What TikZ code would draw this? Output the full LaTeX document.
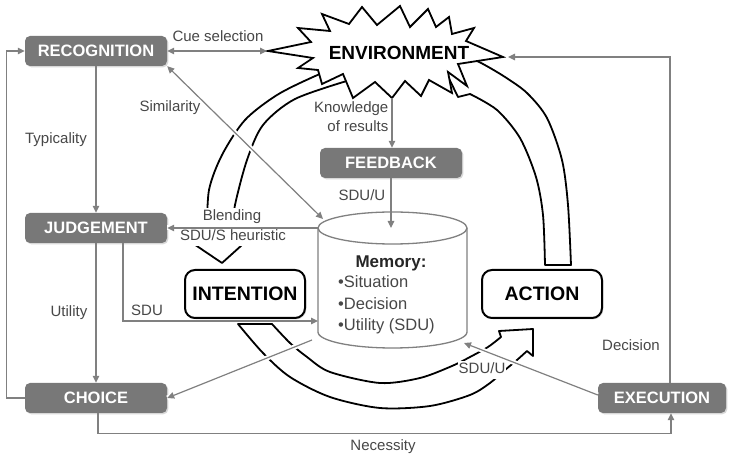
\documentclass[tikz,border=0pt]{standalone}
\usepackage{fontspec}
\setmainfont{Liberation Sans}
\usetikzlibrary{arrows.meta,shadows}

\begin{document}
\begin{tikzpicture}[x=1pt,y=-1pt,
  >={Triangle[length=7pt,width=6.5pt]},
  lbl/.style={text=black!72, font=\fontsize{15}{19}\selectfont, inner sep=0.5pt},
  lblbg/.style={lbl, fill=white, text height=11pt, text depth=3.5pt, inner ysep=1.5pt},
  graybox/.style={rectangle, rounded corners=5pt, fill=black!53, text=white,
    font=\fontsize{16.5}{18}\selectfont\bfseries, minimum height=30pt, inner sep=0pt,
    drop shadow={shadow xshift=1.3pt, shadow yshift=-1.3pt, opacity=.3}},
  stagebox/.style={rectangle, rounded corners=10pt, draw=black, line width=2pt, fill=white,
    font=\fontsize{19.5}{22}\selectfont\bfseries, minimum width=120pt, minimum height=48pt,
    inner sep=0pt, drop shadow={shadow xshift=1.3pt, shadow yshift=-1.3pt, opacity=.3}},
  cycarrow/.style={draw=black, line width=1.8pt, fill=white, line join=round},
  burst/.style={draw=black, line width=1.8pt, fill=white, line join=miter, miter limit=6},
  conn/.style={draw=black!50, line width=1.2pt},
  halo/.style={draw=white, line width=5pt},
  memline/.style={draw=black!50, line width=1.3pt, fill=white}
]
\fill[white] (0,0) rectangle (732,457);
\useasboundingbox (0,0) rectangle (732,457);

% ---- cycle of hollow arrows ----
% environment -> intention
\draw[cycarrow] plot[smooth] coordinates {(345,64) (313,77) (277,95) (245,120) (222,155) (209,190) (207,232)}
  -- (182,236) -- (222,263) -- (252,236)
  -- plot[smooth] coordinates {(232,232) (235,205) (247,160) (263,125) (295,99) (350,80)} -- cycle;
% intention -> action
\draw[cycarrow] plot[smooth] coordinates {(238,324) (263,353) (290,377) (330,397) (380,408) (430,406) (470,395) (490,383) (505,370) (517,360) (527,351)}
  -- (533,356) -- (533,329) -- (499,331)
  -- plot[smooth] coordinates {(501,337) (488,347) (470,357) (452,366) (420,378) (380,383) (330,372) (307,357) (290,343) (272,324)} -- cycle;
% action -> environment
\draw[cycarrow] (545,265) -- plot[smooth] coordinates {(571,265) (568,205) (562,160) (547,118) (527,93) (505,77) (483,64) (468,57)}
  -- (440,60) -- (458,97)
  -- plot[smooth] coordinates {(470,94) (497,110) (520,138) (536,177) (543,215) (545,265)} -- cycle;

% ---- environment burst ----
\coordinate (envL) at (268,51);
\coordinate (envR) at (503,57);
\coordinate (envB) at (392,98);
\draw[burst] (envL) -- (311,42) -- (298,28) -- (330,31) -- (322,14) -- (349,24) -- (362,7)
  -- (377,25) -- (400,6) -- (410,27) -- (428,9) -- (436,27) -- (449,17) -- (452,34)
  -- (474,28) -- (466,41) -- (envR) -- (458,64) -- (467,86) -- (448,72) -- (452,93)
  -- (429,80) -- (421,96) -- (405,81) -- (envB) -- (375,82) -- (353,98) -- (343,74)
  -- (322,84) -- (318,70) -- (298,68) -- (313,58) -- cycle;
\node[font=\fontsize{19}{21}\selectfont\bfseries, inner sep=0pt] (env) at (399,53) {ENVIRONMENT};

% ---- anchor points on the memory store ----
\coordinate (memA) at (323,219);
\coordinate (memTop) at (391,228);
\coordinate (memL) at (318,228);
\coordinate (memS) at (318,321);
\coordinate (memBL) at (312,340);
\coordinate (memBR) at (464,343);

% ---- boxes (placed early so connectors can use their anchors) ----
\path node[graybox, minimum width=142pt] (rec) at (96,51) {RECOGNITION}
      node[graybox, minimum width=142pt] (judge) at (96,228) {JUDGEMENT}
      node[graybox, minimum width=142pt] (choice) at (96,398) {CHOICE}
      node[graybox, minimum width=128pt] (exec) at (662,398) {EXECUTION}
      node[graybox, minimum width=142pt] (fb) at (391,163) {FEEDBACK};

% ---- white gaps where connectors cross the cycle ----
\draw[halo] (rec.south east) -- (memA);
\draw[halo] (memL) -- (judge.east);
\draw[halo] (memBL) -- (choice.east);
\draw[halo] ([yshift=3pt]exec.west) -- (memBR);

% ---- labels ----
\node[lbl] (lcue) at (218,36) {Cue selection};
\node[lbl] (lsim) at (170,108) {Similarity};
\node[lbl] (ltyp) at (56,140) {Typicality};
\node[lbl, align=right, anchor=east] (lkno) at (389,117) {Knowledge\\of results};
\node[lbl, anchor=east] (lsduu) at (386,195) {SDU/U};
\node[lblbg] (lblend) at (232,217) {Blending};
\node[lblbg] (lheur) at (233,237) {SDU/S heuristic};
\node[lbl] (lsdu) at (147,310) {SDU};
\node[lbl] (lutil) at (69,313) {Utility};
\node[lblbg] (lsduu2) at (482,370) {SDU/U};
\node[lbl] (ldec) at (631,345) {Decision};
\node[lbl] (lnec) at (383,447) {Necessity};

% ---- memory store ----
\draw[memline] (318,228) -- (318,332)
  -- plot[domain=180:0, samples=40] ({392.5+74.5*cos(\x)},{332+16*sin(\x)}) -- (467,228);
\draw[memline] (392.5,228) ellipse [x radius=74.5, y radius=16];
\node[font=\fontsize{17}{19}\selectfont\bfseries, text=black!85, inner sep=0pt] (memtitle) at (391,263) {Memory:};
\node[font=\fontsize{16.5}{21.5}\selectfont, text=black!72, align=left, anchor=west, inner sep=0pt] (memlist) at (338,305)
  {•Situation\\•Decision\\•Utility (SDU)};

% ---- connectors ----
\draw[conn,<->,shorten >=1pt] (rec) -- (envL);
\draw[conn,->] (choice.west) -- ++(-18,0) |- (rec.west);
\draw[conn,->] (rec) -- (judge);
\draw[conn,<->] (rec.south east) -- (memA);
\draw[conn,->] (envB) -- (envB |- fb.north);
\draw[conn,->] (fb) -- (memTop);
\draw[conn,->] (memL) -- (judge.east);
\draw[conn,->] (judge) -- (choice);
\draw[conn,->] ([xshift=27pt]judge.south) |- (memS);
\draw[conn,->] (memBL) -- (choice.east);
\draw[conn,->] ([xshift=2pt]choice.south) -- ++(0,20) -| ([xshift=9pt]exec.south);
\draw[conn,->,shorten >=5pt] ([xshift=8pt]exec.north) |- (envR);
\draw[conn,->] ([yshift=3pt]exec.west) -- (memBR);

% ---- stage boxes on top ----
\node[stagebox] (int) at (245,294) {INTENTION};
\node[stagebox] (act) at (542,294) {ACTION};
\end{tikzpicture}
\end{document}
